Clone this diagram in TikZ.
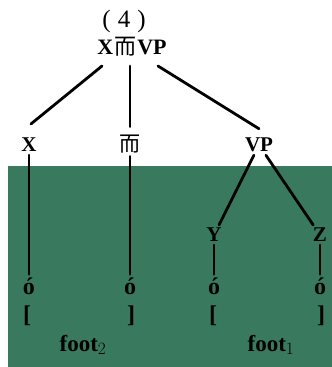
\documentclass[tikz,border=0pt]{standalone}
\usepackage{fontspec}
\setmainfont{Liberation Serif}
\newfontfamily\cjk{Noto Sans CJK SC}
\definecolor{board}{RGB}{57,122,94}
\begin{document}
\begin{tikzpicture}[x=1pt,y=-1pt,
  lab/.style={font=\bfseries\fontsize{21}{24}\selectfont, inner sep=3pt},
  big/.style={font=\bfseries\fontsize{24}{26}\selectfont, inner sep=3pt},
  edge/.style={line width=2.8pt, line cap=round}]
\useasboundingbox (0,0) rectangle (332,367);
\fill[board] (8,166) rectangle (332,367);
\node[font=\fontsize{25}{26}\selectfont, inner sep=0pt] (num) at (124,21) {(\hspace{7pt}4\hspace{7pt})};
\node[lab, font=\bfseries\fontsize{22}{24}\selectfont] (root) at (132,47) {X\hspace{1pt}{\cjk\mdseries 而}\hspace{1pt}VP};
\node[lab] (x) at (29,145) {X};
\node[lab] (er) at (130,144) {\cjk\mdseries 而};
\node[lab] (vp) at (259,145) {VP};
\node[lab] (y) at (214,235) {Y};
\node[lab] (z) at (320,235) {Z};
\node[big] (o1) at (29,286) {ó};
\node[big] (o2) at (130,286) {ó};
\node[big] (o3) at (214,286) {ó};
\node[big] (o4) at (320,286) {ó};
\node[big] (b1) at (27,316) {[};
\node[big] (b2) at (131,316) {]};
\node[big] (b3) at (213,316) {[};
\node[big] (b4) at (321,316) {]};
\node[lab, font=\bfseries\fontsize{23}{24}\selectfont] (f2) at (83,345) {foot$_2$};
\node[lab, font=\bfseries\fontsize{23}{24}\selectfont] (f1) at (271,345) {foot$_1$};
\coordinate (rl) at (102,66);
\coordinate (rm) at (130,66);
\coordinate (rr) at (158,66);
\draw[edge] (rl) -- ([xshift=2pt,yshift=11pt]x.north);
\draw[edge] (rm) -- ([yshift=5pt]er.north);
\draw[edge] (rr) -- ([yshift=6pt]vp.north);
\draw[edge] (x) -- (o1);
\draw[edge] (er) -- (o2);
\draw[edge] (vp) -- (y);
\draw[edge] (vp) -- (z);
\draw[edge] (y) -- (o3);
\draw[edge] (z) -- (o4);
\end{tikzpicture}
\end{document}
